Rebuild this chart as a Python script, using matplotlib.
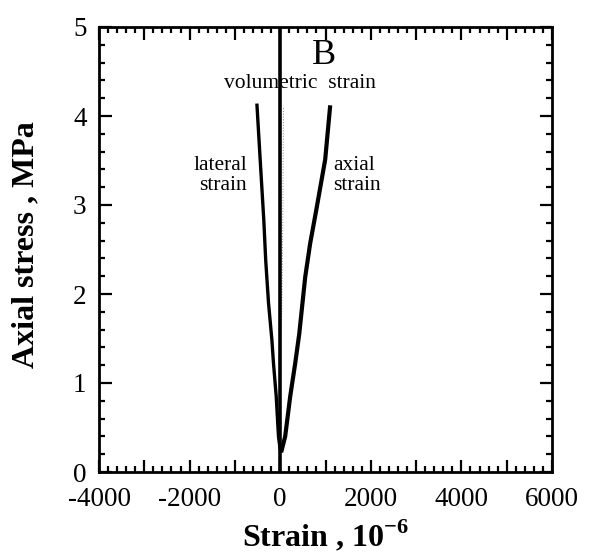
import matplotlib
matplotlib.use("Agg")
import matplotlib.pyplot as plt
from matplotlib.ticker import MultipleLocator, FixedLocator, FuncFormatter

plt.rcParams['font.family'] = ['Liberation Serif', 'DejaVu Serif']
plt.rcParams['mathtext.fontset'] = 'custom'
plt.rcParams['mathtext.rm'] = 'Liberation Serif'
plt.rcParams['mathtext.bf'] = 'Liberation Serif:bold'

# Stress-strain readings (strain in 1e-6, stress in MPa)
lateral_strain = [0, -38, -88, -148, -183, -258, -320, -362, -442, -515]
lateral_stress = [0.25, 0.40, 0.85, 1.22, 1.48, 1.90, 2.38, 2.83, 3.51, 4.14]

axial_strain = [20, 110, 221, 331, 420, 552, 662, 795, 993, 1104]
axial_stress = [0.22, 0.40, 0.85, 1.22, 1.55, 2.19, 2.57, 2.94, 3.51, 4.12]

volumetric_strain = [0, 0, 40, 60, 73]
volumetric_stress = [0.30, 0.85, 2.0, 3.0, 4.10]

x_major = [-4000, -3000, -2000, -1000, 0, 1000, 2000, 3000, 4000, 5000, 6000]
x_labelled = [-4000, -2000, 0, 2000, 4000, 6000]
y_ticks = [0, 1, 2, 3, 4, 5]

fig = plt.figure(figsize=(5.96, 5.56), dpi=100)
ax = fig.add_axes([99 / 596, 84 / 556, 453 / 596, 445 / 556])

ax.axvline(0, color='black', lw=2.6, zorder=3)
ax.plot(volumetric_strain, volumetric_stress, color='#9a9a9a', lw=0.8,
        linestyle=(0, (1, 1.5)), zorder=2)
ax.plot(lateral_strain, lateral_stress, color='black', lw=2.4,
        solid_capstyle='butt', zorder=4)
ax.plot(axial_strain, axial_stress, color='black', lw=3.0,
        solid_capstyle='butt', zorder=4)

ax.set_xlim(-4000, 6000)
ax.set_ylim(0, 5)
ax.xaxis.set_major_locator(FixedLocator(x_major))
ax.xaxis.set_major_formatter(
    FuncFormatter(lambda v, pos: f'{int(round(v))}' if int(round(v)) in x_labelled else ''))
ax.xaxis.set_minor_locator(MultipleLocator(200))
ax.yaxis.set_major_locator(FixedLocator(y_ticks))
ax.yaxis.set_minor_locator(MultipleLocator(0.2))

ax.tick_params(which='both', direction='in', top=True, right=True,
               width=1.6, colors='black', labelsize=19.5)
ax.tick_params(which='major', length=9)
ax.tick_params(axis='y', which='major', pad=9)
ax.tick_params(axis='x', which='major', pad=11)
ax.tick_params(which='minor', length=4.5)
for s in ax.spines.values():
    s.set_linewidth(2.0)

ax.set_xlabel(r'Strain , 10$^{\mathbf{-6}}$', fontsize=23, fontweight='bold')
ax.xaxis.set_label_coords(0.5, -0.103)
ax.set_ylabel('Axial stress , MPa', fontsize=23, fontweight='bold')
ax.yaxis.set_label_coords(-0.13, 0.51)

ax.text(970, 4.68, 'B', fontsize=26, ha='center', va='center')
ax.text(445, 4.37, 'volumetric  strain', fontsize=15.5, ha='center', va='center')
ax.text(-730, 3.33, 'lateral\nstrain', fontsize=15.5, ha='right', va='center',
        linespacing=1.08)
ax.text(1170, 3.33, 'axial\nstrain', fontsize=15.5, ha='left', va='center',
        linespacing=1.08)

fig.savefig('out.png', dpi=100)
